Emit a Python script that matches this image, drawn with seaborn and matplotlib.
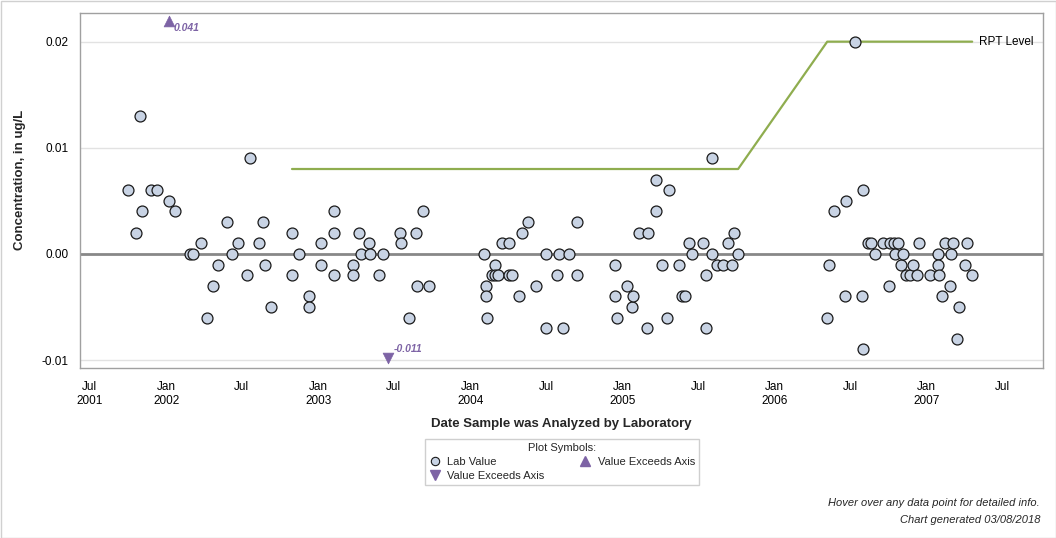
import matplotlib
matplotlib.use("Agg")
import matplotlib.pyplot as plt
from matplotlib.lines import Line2D
from matplotlib.patches import Rectangle
import seaborn as sns
import pandas as pd

# lab results (date analyzed, concentration ug/L)
lab_dates = [
    "2001-10-02", "2001-10-21", "2001-10-30", "2001-11-04", "2001-11-25", "2001-12-10",
    "2002-01-08", "2002-01-22", "2002-02-28", "2002-03-06", "2002-03-26", "2002-04-09",
    "2002-04-23", "2002-05-05", "2002-05-27", "2002-06-08", "2002-06-22", "2002-07-14",
    "2002-07-21", "2002-08-12", "2002-08-22", "2002-08-27", "2002-09-10", "2002-10-30",
    "2002-10-30", "2002-11-16", "2002-12-10", "2002-12-10",
    "2003-01-08", "2003-01-08", "2003-02-08", "2003-02-09", "2003-02-09", "2003-03-26",
    "2003-03-26", "2003-04-09", "2003-04-14", "2003-05-03", "2003-05-05", "2003-05-27",
    "2003-06-06", "2003-07-17", "2003-07-19", "2003-08-07", "2003-08-24", "2003-08-26",
    "2003-09-10", "2003-09-24",
    "2004-02-03", "2004-02-08", "2004-02-08", "2004-02-10", "2004-02-23", "2004-03-01",
    "2004-03-01", "2004-03-08", "2004-03-17", "2004-04-04", "2004-04-03", "2004-04-10",
    "2004-04-28", "2004-05-05", "2004-05-19", "2004-06-07", "2004-06-30", "2004-07-01",
    "2004-07-28", "2004-08-01", "2004-08-11", "2004-08-25", "2004-09-13", "2004-09-13",
    "2004-12-14", "2004-12-14", "2004-12-18",
    "2005-01-12", "2005-01-24", "2005-01-26", "2005-02-09", "2005-02-28", "2005-03-03",
    "2005-03-22", "2005-03-22", "2005-04-06", "2005-04-18", "2005-04-22", "2005-05-17",
    "2005-05-24", "2005-05-31", "2005-06-08", "2005-06-17", "2005-07-12", "2005-07-20",
    "2005-07-20", "2005-08-04", "2005-08-04", "2005-08-15", "2005-08-30", "2005-09-11",
    "2005-09-21", "2005-09-26", "2005-10-05",
    "2006-05-07", "2006-05-11", "2006-05-24", "2006-06-19", "2006-06-21", "2006-07-12",
    "2006-07-30", "2006-08-01", "2006-08-01", "2006-08-14", "2006-08-20", "2006-08-30",
    "2006-09-18", "2006-10-03", "2006-10-04", "2006-10-15", "2006-10-17", "2006-10-25",
    "2006-11-01", "2006-11-05", "2006-11-11", "2006-11-22", "2006-11-30", "2006-12-08",
    "2006-12-14",
    "2007-01-09", "2007-01-29", "2007-01-29", "2007-01-31", "2007-02-07", "2007-02-14",
    "2007-02-26", "2007-03-01", "2007-03-06", "2007-03-15", "2007-03-19", "2007-04-03",
    "2007-04-08", "2007-04-20",
]
lab_values = [
    0.006, 0.002, 0.013, 0.004, 0.006, 0.006,
    0.005, 0.004, 0.000, 0.000, 0.001, -0.006,
    -0.003, -0.001, 0.003, 0.000, 0.001, -0.002,
    0.009, 0.001, 0.003, -0.001, -0.005, 0.002,
    -0.002, 0.000, -0.004, -0.005,
    0.001, -0.001, 0.004, 0.002, -0.002, -0.001,
    -0.002, 0.002, 0.000, 0.001, 0.000, -0.002,
    0.000, 0.002, 0.001, -0.006, 0.002, -0.003,
    0.004, -0.003,
    0.000, -0.003, -0.004, -0.006, -0.002, -0.001,
    -0.002, -0.002, 0.001, 0.001, -0.002, -0.002,
    -0.004, 0.002, 0.003, -0.003, -0.007, 0.000,
    -0.002, 0.000, -0.007, 0.000, 0.003, -0.002,
    -0.001, -0.004, -0.006,
    -0.003, -0.005, -0.004, 0.002, -0.007, 0.002,
    0.004, 0.007, -0.001, -0.006, 0.006, -0.001,
    -0.004, -0.004, 0.001, 0.000, 0.001, -0.002,
    -0.007, 0.009, 0.000, -0.001, -0.001, 0.001,
    -0.001, 0.002, 0.000,
    -0.006, -0.001, 0.004, -0.004, 0.005, 0.020,
    -0.004, 0.006, -0.009, 0.001, 0.001, 0.000,
    0.001, -0.003, 0.001, 0.001, 0.000, 0.001,
    -0.001, 0.000, -0.002, -0.002, -0.001, -0.002,
    0.001,
    -0.002, 0.000, -0.001, -0.002, -0.004, 0.001,
    -0.003, 0.000, 0.001, -0.008, -0.005, -0.001,
    0.001, -0.002,
]

# values outside the axis range
exceed_dates = ["2002-01-07", "2003-06-18", "2007-04-13"]
exceed_values = [0.041, -0.011, -0.01]

# reporting level
rpt_dates = ["2002-10-30", "2005-10-05", "2006-05-07", "2007-04-20"]
rpt_values = [0.008, 0.008, 0.02, 0.02]

tick_dates = ["2001-07-01", "2002-01-01", "2002-07-01", "2003-01-01", "2003-07-01",
              "2004-01-01", "2004-07-01", "2005-01-01", "2005-07-01", "2006-01-01",
              "2006-07-01", "2007-01-01", "2007-07-01"]
tick_labels = ["Jul\n2001", "Jan\n2002", "Jul", "Jan\n2003", "Jul", "Jan\n2004", "Jul",
               "Jan\n2005", "Jul", "Jan\n2006", "Jul", "Jan\n2007", "Jul"]
y_ticks = [-0.01, 0.0, 0.01, 0.02]
y_tick_labels = ["-0.01", "0.00", "0.01", "0.02"]
y_lim = (-0.01075, 0.0227)
x_lim = ("2001-06-08", "2007-10-07")

LAB_FACE = "#c8d3e4"
PURPLE = "#7d63a5"
GREEN = "#8fad4f"
AXIS_GRAY = "#a0a0a0"

sns.set_theme(style="white")
plt.rcParams["font.family"] = ["Liberation Sans", "DejaVu Sans"]

W, H = 1056, 538
fig = plt.figure(figsize=(W / 100, H / 100), dpi=100)
ax = fig.add_axes([80 / W, 1 - 368 / H, (1043 - 80) / W, (368 - 13) / H])

lab = pd.DataFrame({"date": pd.to_datetime(lab_dates), "value": lab_values})
rpt = pd.DataFrame({"date": pd.to_datetime(rpt_dates), "value": rpt_values})
exc = pd.DataFrame({"date": pd.to_datetime(exceed_dates), "value": exceed_values})
# exceeding values are pinned just inside the axis edge
exc["shown"] = exc["value"].clip(y_lim[0] + 0.00095, y_lim[1] - 0.0008)
up = exc[exc["value"] > y_lim[1]]
down = exc[exc["value"] < y_lim[0]]

ax.yaxis.grid(True, color="#e2e2e2", lw=1)
ax.set_axisbelow(True)
ax.axhline(0, color="#888888", lw=2, zorder=1)

sns.lineplot(data=rpt, x="date", y="value", color=GREEN, lw=1.6, sort=False, ax=ax, zorder=2)
sns.scatterplot(data=lab, x="date", y="value", marker="o", s=62, color=LAB_FACE,
                edgecolor="#1a1a1a", linewidth=0.9, ax=ax, zorder=3)
sns.scatterplot(data=up, x="date", y="shown", marker="^", s=60, color=PURPLE,
                edgecolor=PURPLE, linewidth=0.5, ax=ax, zorder=3)
sns.scatterplot(data=down, x="date", y="shown", marker="v", s=60, color=PURPLE,
                edgecolor=PURPLE, linewidth=0.5, ax=ax, zorder=3)

for _, r in up.iterrows():
    ax.annotate(f"{r['value']:g}", (r["date"], r["shown"]), xytext=(3.6, -5),
                textcoords="offset points", ha="left", va="center", color=PURPLE,
                fontsize=7.5, fontweight="bold", fontstyle="italic")
for _, r in down.iterrows():
    ax.annotate(f"{r['value']:g}", (r["date"], r["shown"]), xytext=(4.3, 6.5),
                textcoords="offset points", ha="left", va="center", color=PURPLE,
                fontsize=7.5, fontweight="bold", fontstyle="italic")

ax.annotate("RPT Level", (rpt["date"].iloc[-1], rpt["value"].iloc[-1]), xytext=(5, 0),
            textcoords="offset points", ha="left", va="center", fontsize=8.5, color="black")

ax.set_xlim(pd.to_datetime(x_lim[0]), pd.to_datetime(x_lim[1]))
ax.set_ylim(*y_lim)
ax.set_xticks(pd.to_datetime(tick_dates))
ax.set_xticklabels(tick_labels, linespacing=1.25)
ax.set_yticks(y_ticks)
ax.set_yticklabels(y_tick_labels)
ax.set_xlabel("")
ax.set_ylabel("")
for s in ax.spines.values():
    s.set_color(AXIS_GRAY)
    s.set_linewidth(1)
ax.tick_params(axis="both", direction="out", length=5, width=1, color=AXIS_GRAY,
               labelsize=8.5, labelcolor="black", pad=3)
ax.tick_params(axis="x", pad=4)

fig.text(20 / W, 1 - 180 / H, "Concentration, in ug/L", rotation=90, ha="center",
         va="center", fontsize=9.5, fontweight="bold")
fig.text(561.5 / W, 1 - 424 / H, "Date Sample was Analyzed by Laboratory", ha="center",
         va="center", fontsize=9.5, fontweight="bold")

handles = [
    Line2D([], [], ls="", marker="o", ms=6, mfc=LAB_FACE, mec="#1a1a1a", mew=0.8),
    Line2D([], [], ls="", marker="v", ms=6.5, mfc=PURPLE, mec=PURPLE),
    Line2D([], [], ls="", marker="^", ms=6.5, mfc=PURPLE, mec=PURPLE),
]
labels = ["Lab Value", "Value Exceeds Axis", "Value Exceeds Axis"]
leg = fig.legend(handles, labels, ncol=2, loc="upper center",
                 bbox_to_anchor=(562 / W, 1 - 439 / H), title="Plot Symbols:",
                 fontsize=8, title_fontsize=8, frameon=True, fancybox=False,
                 edgecolor="#c4c4c4", borderpad=0.35, labelspacing=0.35,
                 handletextpad=0.6, columnspacing=3.2, handlelength=1.0,
                 borderaxespad=0)
leg.get_frame().set_linewidth(1)

fig.text(1040 / W, 1 - 503 / H, "Hover over any data point for detailed info.",
         ha="right", va="center", fontsize=8, fontstyle="italic")
fig.text(1040 / W, 1 - 520 / H, "Chart generated 03/08/2018",
         ha="right", va="center", fontsize=8, fontstyle="italic")

fig.patches.append(Rectangle((0.5 / W, 0.5 / H), 1 - 1 / W, 1 - 1 / H,
                             transform=fig.transFigure, fill=False,
                             edgecolor="#d0d0d0", lw=1))

fig.savefig("out.png", dpi=100)
